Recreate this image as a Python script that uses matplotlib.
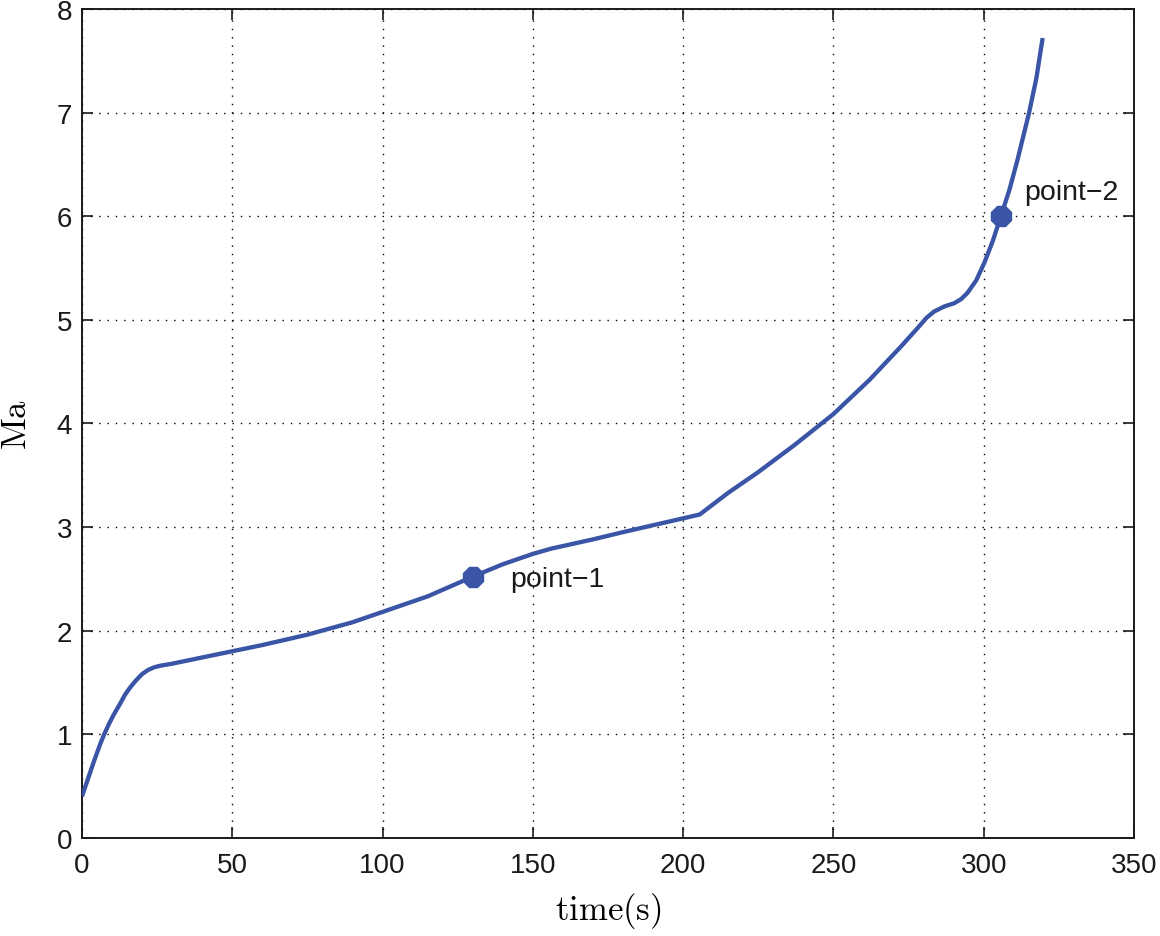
import numpy as np
import matplotlib
matplotlib.use("Agg")
from matplotlib import pyplot as plt

plt.rcParams['font.family'] = ['Liberation Sans', 'DejaVu Sans']
plt.rcParams['mathtext.fontset'] = 'cm'

# Mach number vs time
time_s = [0, 2, 4, 6, 7.4, 9, 10.4, 12.6, 14.3, 16, 18, 20, 22, 24, 26, 30, 40, 50,
          60, 75, 90, 100, 106, 115, 130, 140, 150, 156, 170, 180, 195, 205.5,
          215, 225, 237, 250, 262, 272.4, 278, 281, 283.5, 287, 290.2, 292.5,
          294.6, 297.5, 300.2, 303, 305.7, 308.5, 311.2, 315.1, 317.5, 319.6]
mach = [0.40, 0.57, 0.74, 0.90, 1.00, 1.10, 1.18, 1.29, 1.38, 1.45, 1.52, 1.58,
        1.62, 1.645, 1.66, 1.68, 1.74, 1.80, 1.86, 1.96, 2.08, 2.18, 2.24, 2.33,
        2.52, 2.64, 2.74, 2.79, 2.88, 2.95, 3.05, 3.12, 3.33, 3.53, 3.79, 4.09,
        4.42, 4.74, 4.92, 5.02, 5.08, 5.13, 5.16, 5.20, 5.26, 5.38, 5.55, 5.76,
        6.00, 6.25, 6.54, 7.00, 7.33, 7.72]

marked_t = [130.0, 305.7]
marked_ma = [2.52, 6.00]
marked_labels = ['point\u22121', 'point\u22122']
label_t = [142.5, 313.3]
label_ma = [2.50, 6.23]

line_color = '#3a55a6'

fig = plt.figure(figsize=(11.6, 9.37), dpi=100)
ax = fig.add_axes([0.0707, 0.1049, 0.9069, 0.8844])

ax.plot(time_s, mach, color=line_color, lw=3.1, solid_capstyle='butt',
        solid_joinstyle='round', zorder=3)
ax.plot(marked_t, marked_ma, linestyle='none', marker='8', markersize=15,
        color=line_color, zorder=4)
for t, m, lab in zip(label_t, label_ma, marked_labels):
    ax.text(t, m, lab, fontsize=20.5, va='center', ha='left', color='#1a1a1a')

ax.set_xlim(0, 350)
ax.set_ylim(0, 8)
ax.set_xticks(np.arange(0, 351, 50))
ax.set_yticks(np.arange(0, 9, 1))
ax.grid(True, linestyle=(0, (1, 5)), color='black', linewidth=1.0)
ax.tick_params(direction='in', top=True, right=True, length=8, width=1.2,
               labelsize=20, colors='#1a1a1a')
ax.tick_params(axis='x', pad=10)
ax.tick_params(axis='y', pad=7)
for sp in ax.spines.values():
    sp.set_linewidth(1.4)
    sp.set_color('#1a1a1a')

ax.set_xlabel(r'$\mathrm{time(s)}$', fontsize=25, labelpad=9)
ax.set_ylabel(r'$\mathrm{Ma}$', fontsize=25, labelpad=17)

fig.savefig('out.png', dpi=100)
